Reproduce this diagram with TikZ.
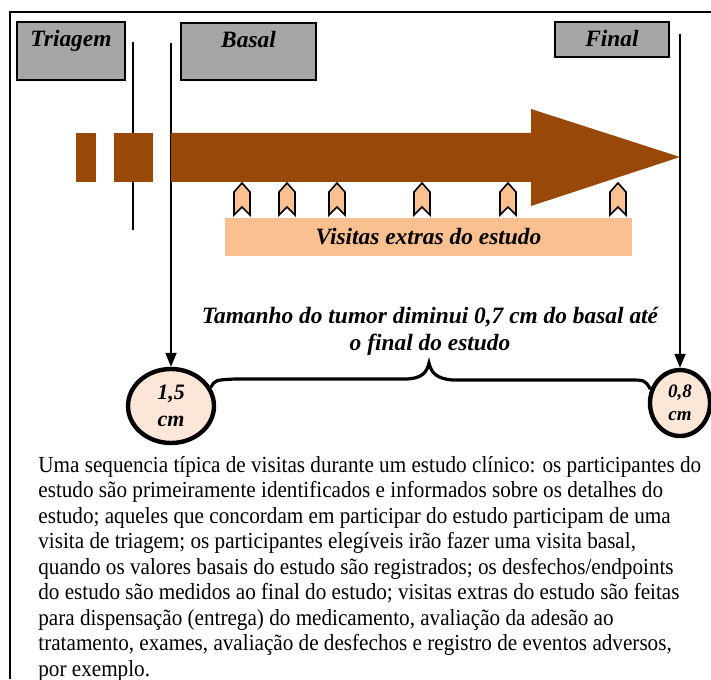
\documentclass[tikz,border=0pt]{standalone}
\usepackage{fontspec}
\setmainfont{Liberation Serif}
\newfontfamily\bodyfont[FakeStretch=0.92]{Liberation Serif}
\usetikzlibrary{arrows.meta,shapes.geometric}

\definecolor{boxgray}{HTML}{A6A6A6}
\definecolor{timebrown}{HTML}{984807}
\definecolor{visitpeach}{HTML}{FAC090}
\definecolor{sizepink}{HTML}{FCE6D8}

\begin{document}
\begin{tikzpicture}
[x=0.5pt,y=-0.5pt,%
  phase/.style={shape=rectangle,draw,thick,fill=boxgray,inner sep=0pt},
  lbl/.style={font=\bfseries\itshape\fontsize{11.7}{13.5}\selectfont},
  tumor/.style={shape=ellipse,draw,line width=2.2pt,fill=sizepink,inner sep=0pt,
    align=center,font=\bfseries\itshape\fontsize{11}{13.5}\selectfont},
  pointer/.style={-{Triangle[length=7pt,width=5.5pt]},line width=1pt}]
\useasboundingbox (0,0) rectangle (711,679);
% frame
\draw[line width=0.8pt] (10,679) -- (10,12) -- (711,12);

% phases
\node[phase,minimum width=54pt,minimum height=29pt] (triagem) at (71,51) {};
\node[lbl,anchor=north] at ([yshift=-1pt]triagem.north) {Triagem};
\node[phase,minimum width=67.5pt,minimum height=28.5pt] (basal) at (248.5,51.5) {};
\node[lbl,anchor=north] at ([yshift=-1pt]basal.north) {Basal};
\node[phase,minimum width=57pt,minimum height=17.5pt] (final) at (612,39.5) {};
\node[lbl,anchor=north] at ([yshift=-1pt]final.north) {Final};

% tumor size
\node[tumor,minimum width=43pt,minimum height=37pt] (c15) at (171,406) {1,5\\cm};
\node[tumor,minimum width=30pt,minimum height=33pt,
  font=\bfseries\itshape\fontsize{9.5}{11.5}\selectfont] (c08) at (680,403) {0,8\\cm};

\coordinate (basaltop) at (171,43);
\coordinate (finaltop) at (680,34);
\draw[line width=0.8pt] (133,42) -- (133,230);
\draw[pointer] (basaltop) -- (c15.north);
\draw[pointer] (finaltop) -- (c08.north);

% time arrow
\fill[timebrown] (76,133) rectangle (96,182);
\fill[timebrown] (114,133) rectangle (153,182);
\fill[timebrown] (171,133) -- (531,133) -- (531,109) -- (680,157)
  -- (531,206) -- (531,182) -- (171,182) -- cycle;

% extra visits
\foreach \vx in {242,287,337,422,508,618}
  \draw[thick,fill=visitpeach] (\vx,183) -- (\vx+8,192) -- (\vx+8,215)
    -- (\vx,207) -- (\vx-8,215) -- (\vx-8,192) -- cycle;
\node[fill=visitpeach,minimum width=203.5pt,minimum height=19pt,inner sep=0pt,lbl]
  (extras) at (428.5,237) {Visitas extras do estudo};

\node[lbl,align=center,font=\bfseries\itshape\fontsize{11.7}{13.5}\selectfont]
  (diminui) at (430,331) {Tamanho do tumor diminui 0,7 cm do basal até\\o final do estudo};

% brace
\draw[line width=1.6pt] (c15.25) .. controls (215,380) .. (235,379) -- (405,379)
  .. controls (422,379) and (427,372) .. (429,363)
  .. controls (431,372) and (436,379) .. (453,380) -- (628,380)
  .. controls (645,380) .. (c08.155);

\node[anchor=north west,inner sep=0pt,align=left,
  font=\bodyfont\fontsize{11.5}{12.75}\selectfont] (legenda) at (38,456)
{Uma sequencia típica de visitas durante um estudo clínico: os participantes do\\
estudo são primeiramente identificados e informados sobre os detalhes do\\
estudo; aqueles que concordam em participar do estudo participam de uma\\
visita de triagem; os participantes elegíveis irão fazer uma visita basal,\\
quando os valores basais do estudo são registrados; os desfechos/endpoints\\
do estudo são medidos ao final do estudo; visitas extras do estudo são feitas\\
para dispensação (entrega) do medicamento, avaliação da adesão ao\\
tratamento, exames, avaliação de desfechos e registro de eventos adversos,\\
por exemplo.};
\end{tikzpicture}
\end{document}
